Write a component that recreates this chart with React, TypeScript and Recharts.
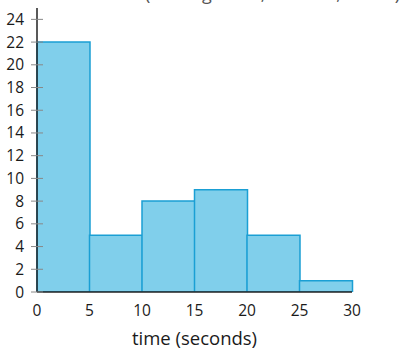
import React from "react";
import { BarChart, Bar, XAxis, YAxis, Label } from "recharts";

const binLabels = ["0-5", "5-10", "10-15", "15-20", "20-25", "25-30"];
const binStarts = [0, 5, 10, 15, 20, 25];
const counts = [22, 5, 8, 9, 5, 1];
const xTicks = [0, 5, 10, 15, 20, 25, 30];
const yTicks = [0, 2, 4, 6, 8, 10, 12, 14, 16, 18, 20, 22, 24];
const xTitle = "time (seconds)";
const topTitle = "(walking times, seconds, n = 50)";

const data = binLabels.map((b, i) => ({ bin: b, start: binStarts[i], count: counts[i] }));

const FONT = "'Open Sans', sans-serif";

const YTick = (props: any) => {
  const { x, y, payload } = props;
  const ax = x + 13;
  return (
    <g>
      <line x1={ax - 6} x2={ax + 6} y1={y} y2={y} stroke="#888" strokeWidth={1} />
      <text x={x} y={y} dy={5.5} textAnchor="end" fontSize={15.5} fill="#1a1a1a" fontFamily={FONT}>
        {payload.value}
      </text>
    </g>
  );
};

export default function App() {
  return (
    <div style={{ position: "absolute", left: 0, top: 0, width: 404, height: 357, background: "#fff" }}>
      <svg width={404} height={20} style={{ position: "absolute", left: 0, top: 0 }}>
        <text x={145} y={-0.5} fontSize={18} fill="#555" fontFamily={FONT} textLength={255} lengthAdjust="spacing">
          {topTitle}
        </text>
      </svg>
      <div style={{ position: "absolute", left: 0, top: 0 }}>
        <BarChart
          width={404}
          height={357}
          data={data}
          margin={{ top: 8, right: 52, left: 0, bottom: 0 }}
          barCategoryGap={0}
          barGap={0}
        >
          <XAxis xAxisId="cat" dataKey="bin" hide height={0} />
          <XAxis
            xAxisId="num"
            type="number"
            dataKey="start"
            domain={[0, 30]}
            ticks={xTicks}
            allowDataOverflow
            height={65}
            tickLine={false}
            tickSize={0}
            tickMargin={13}
            axisLine={{ stroke: "#222", strokeWidth: 1.5 }}
            tick={{ fontSize: 15.5, fill: "#1a1a1a", fontFamily: FONT }}
          >
            <Label
              value={xTitle}
              position="insideBottom"
              offset={12}
              style={{ fontSize: 18.5, fill: "#1a1a1a", fontFamily: FONT }}
            />
          </XAxis>
          <YAxis
            domain={[0, 25]}
            ticks={yTicks}
            width={37}
            tickLine={false}
            tickSize={0}
            tickMargin={13}
            axisLine={{ stroke: "#222", strokeWidth: 1.5 }}
            tick={<YTick />}
            interval={0}
            allowDataOverflow
          />
          <Bar
            xAxisId="cat"
            dataKey="count"
            fill="#80cfeb"
            stroke="#1a9fd4"
            strokeWidth={1.5}
            isAnimationActive={false}
          />
        </BarChart>
      </div>
    </div>
  );
}
